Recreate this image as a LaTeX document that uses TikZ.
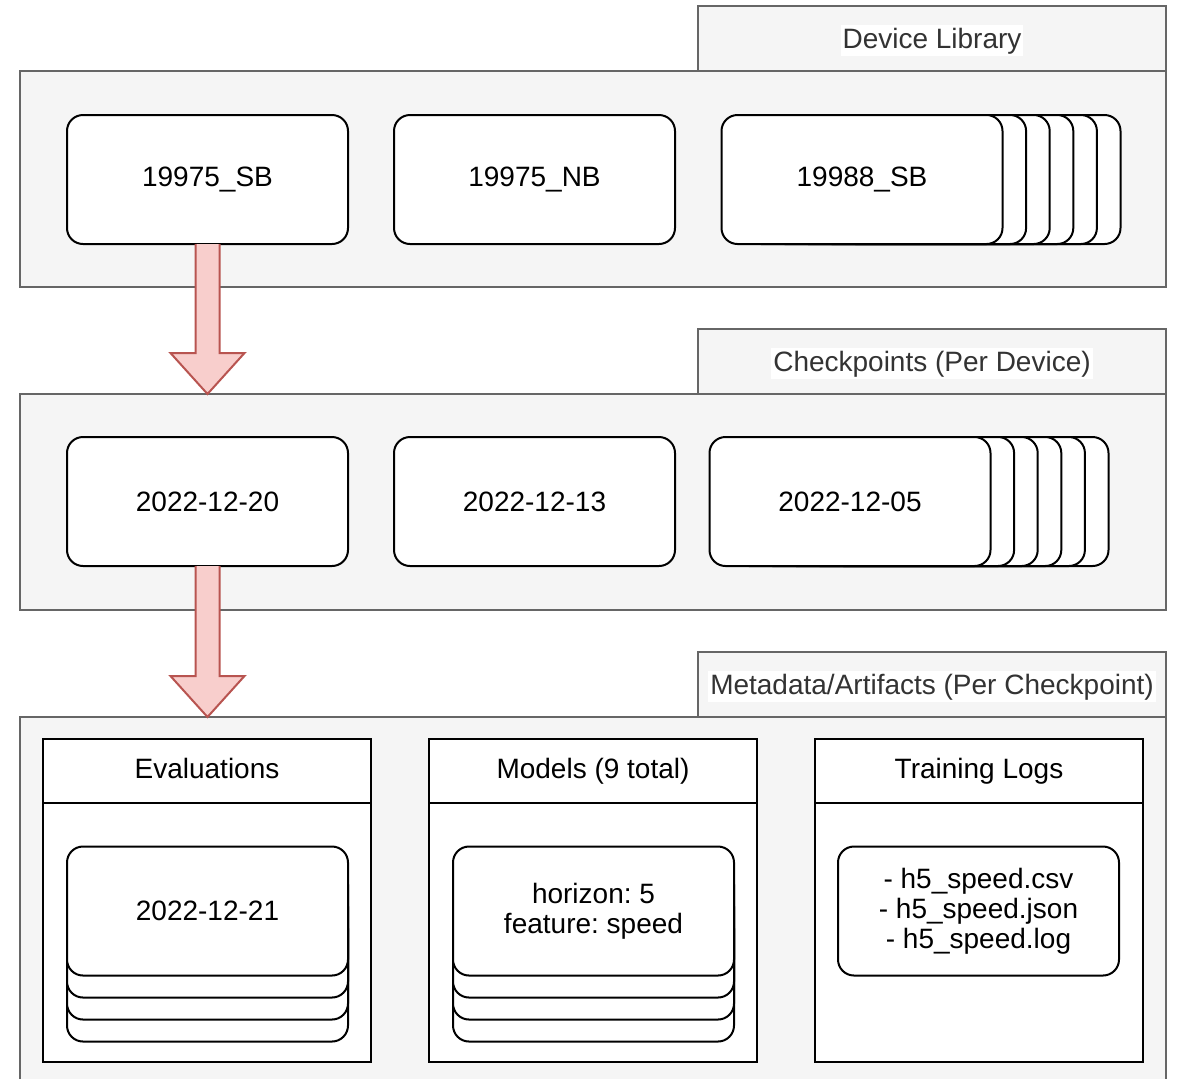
\documentclass[tikz,border=0pt]{standalone}
\usepackage{fontspec}
\setmainfont{Liberation Sans}
\usetikzlibrary{positioning}
\frenchspacing
\definecolor{panelfill}{HTML}{F5F5F5}
\definecolor{panelline}{HTML}{666666}
\definecolor{flowfill}{HTML}{F8CECC}
\definecolor{flowline}{HTML}{B85450}
\newcommand{\boxwidth}{140.5pt}
\newcommand{\boxheight}{64.5pt}
\newcommand{\lanewidth}{164pt}
% fat red arrow from the bottom of a box down to the top of a panel
\newcommand{\flowarrow}[2]{%
    \draw[flow] ([xshift=-6pt]#1.south)
        -- ([xshift=-6pt,yshift=20.5pt]#1.south |- #2.north) -- ++(-12.5pt,0)
        -- (#1.south |- #2.north) -- ++(18.5pt,20.5pt) -- ++(-12.5pt,0)
        -- ([xshift=6pt]#1.south);
}
\tikzset{
    x = 0.5pt, y = -0.5pt,
    every node/.style = {font=\fontsize{14}{15}\selectfont, outer sep=0pt},
    panel/.style = { draw=panelline, fill=panelfill, line width=1pt,
        rectangle, anchor=north west, inner sep=0pt,
        minimum width = 573pt, minimum height = 108pt
    },
    tab/.style = { panel, minimum width = 234pt, minimum height = 32.5pt },
    title/.style = { fill=white, inner sep=1pt, text=black!80,
        text height = 10.5pt, text depth = 3pt
    },
    item/.style = { draw, fill=white, line width=1pt, rectangle,
        rounded corners=8pt, align=center, inner sep=0pt,
        minimum width = \boxwidth, minimum height = \boxheight
    },
    lanehead/.style = { draw, fill=white, line width=1pt, rectangle,
        anchor=north west, inner sep=0pt,
        text height = 10.5pt, text depth = 3pt,
        minimum width = \lanewidth, minimum height = 32pt
    },
    lane/.style = { lanehead, anchor=north, minimum height = 129.5pt },
    flow/.style = { draw=flowline, fill=flowfill, line width=1pt }
}
\begin{document}
\begin{tikzpicture}
        \useasboundingbox (0,0) rectangle (1177,1078);

        % Device library
        \node[tab] (devtab) at (698,6) {};
        \node[title] (devtitle) at ([yshift=-1pt]devtab.center) {Device Library};
        \node[panel] (devpanel) at (20,71) {};
        \node[item] (dev1) at (207.5,179.5) {19975\_SB};
        \node[item] (dev2) [right=23pt of dev1] {19975\_NB};
        \foreach \i in {5,4,3,2,1}
            \node[item] (dev3-\i) at (862+23.6*\i,179.5) {};
        \node[item] (dev3) at (862,179.5) {19988\_SB};

        % Checkpoints
        \node[tab] (ckptab) at (698,329) {};
        \node[title] (ckptitle) at ([yshift=-1pt]ckptab.center) {Checkpoints (Per Device)};
        \node[panel] (ckppanel) at (20,394) {};
        \node[item] (ckp1) at (207.5,501.5) {2022-12-20};
        \node[item] (ckp2) [right=23pt of ckp1] {2022-12-13};
        \foreach \i in {5,4,3,2,1}
            \node[item] (ckp3-\i) at (850+23.6*\i,501.5) {};
        \node[item] (ckp3) at (850,501.5) {2022-12-05};

        % Metadata / artifacts
        \node[tab] (metatab) at (698,652) {};
        \node[title] (metatitle) at ([yshift=-1pt]metatab.center) {Metadata/Artifacts (Per Checkpoint)};
        \node[panel, minimum height = 182.5pt] (metapanel) at (20,717) {};

        \node[lanehead] (evalhead) at (43,739) {Evaluations};
        \node[lane] (evalbody) [below=0pt of evalhead] {};
        \node[lanehead] (modelhead) at (429,739) {Models (9 total)};
        \node[lane] (modelbody) [below=0pt of modelhead] {};
        \node[lanehead] (loghead) at (815,739) {Training Logs};
        \node[lane] (logbody) [below=0pt of loghead] {};

        \foreach \i in {3,2,1} {
            \node[item] (eval-\i) at (207.5,911+22*\i) {};
            \node[item] (model-\i) at (593.5,911+22*\i) {};
        }
        \node[item] (eval) at (207.5,911) {2022-12-21};
        \node[item] (model) at (593.5,911) {horizon: 5\\ feature: speed};
        \node[item] (logs) at (978.5,911)
            {- h5\_speed.csv\\ - h5\_speed.json\\ - h5\_speed.log};

        % arrows between the levels
        \flowarrow{dev1}{ckppanel}
        \flowarrow{ckp1}{metapanel}
\end{tikzpicture}
\end{document}
